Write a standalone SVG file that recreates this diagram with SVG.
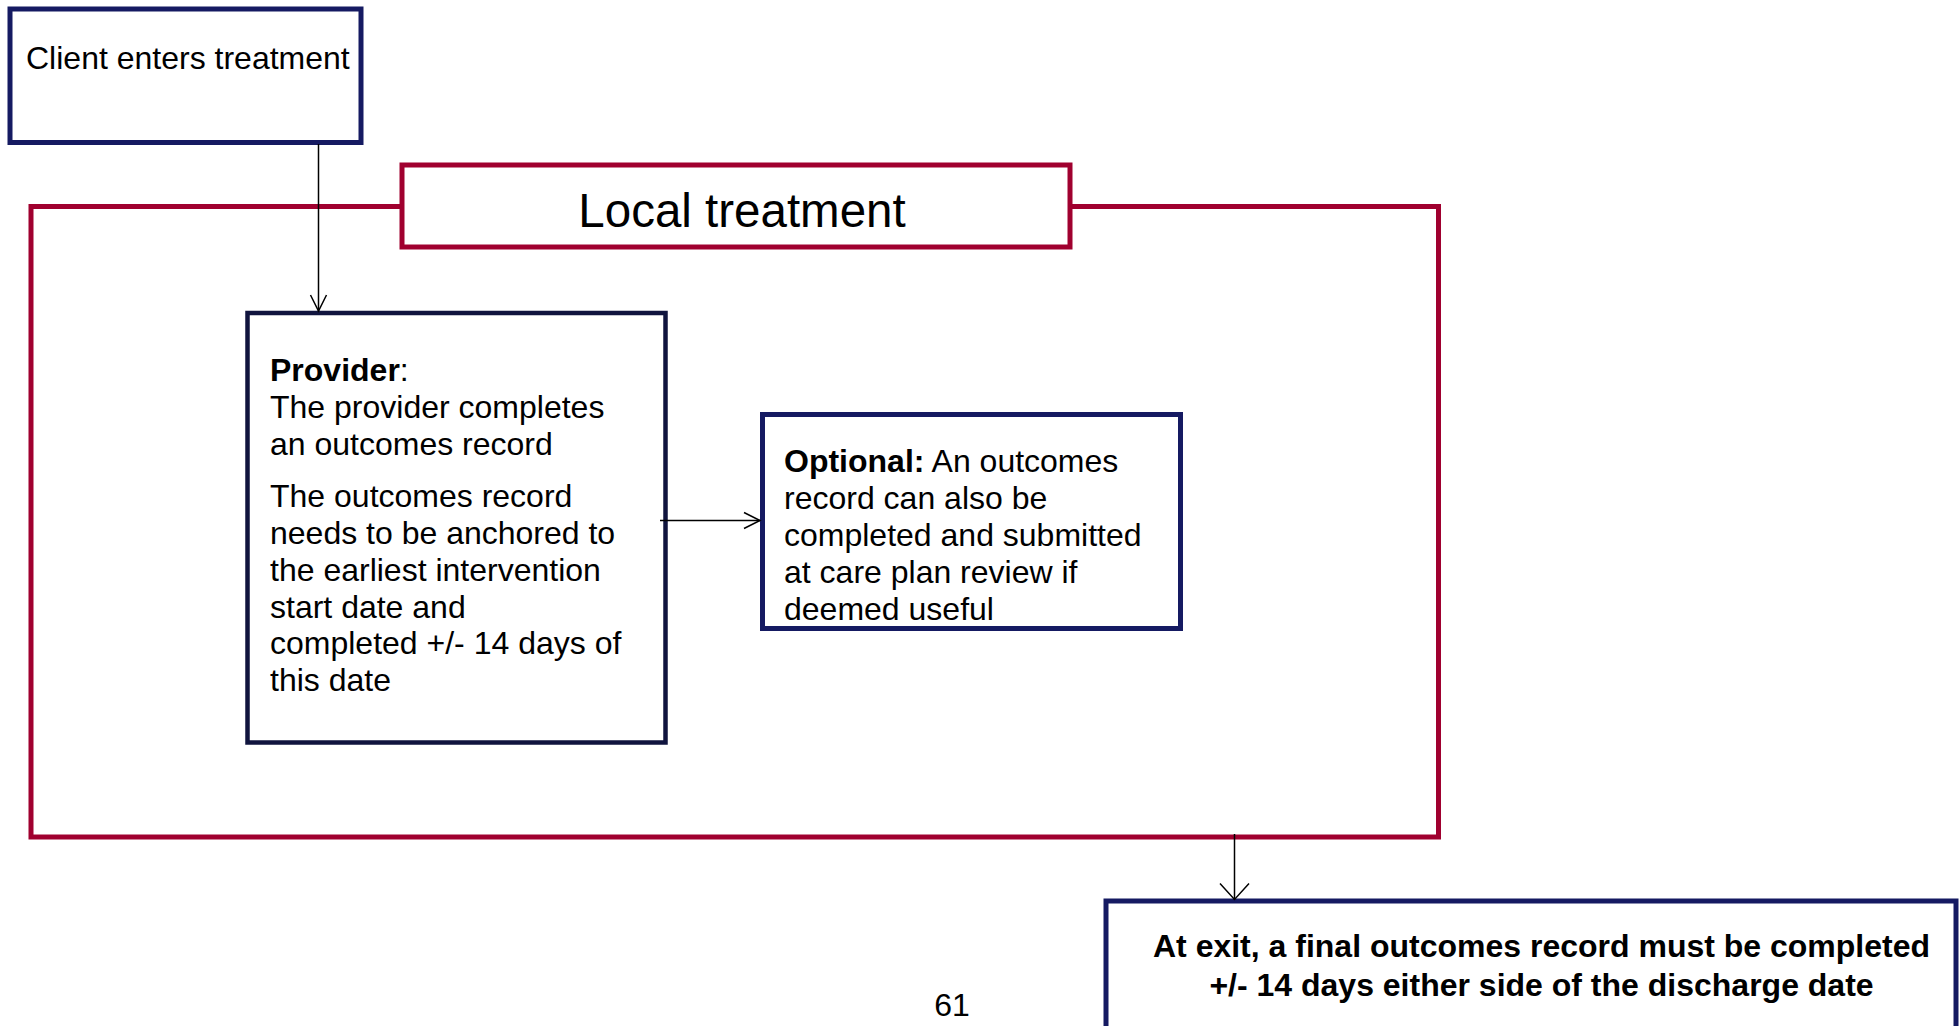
<svg xmlns="http://www.w3.org/2000/svg" width="1960" height="1026" viewBox="0 0 1960 1026">
<style>
  text { font-family: "Liberation Sans", Arial, sans-serif; fill: #000; }
  .body { font-size: 32px; }
  .b { font-weight: bold; }
  .navy { fill: #fff; stroke: #151a62; stroke-width: 5; }
  .dark { fill: #fff; stroke: #10143e; stroke-width: 4.5; }
  .crim { fill: none; stroke: #a0002f; stroke-width: 5; }
  .crimw { fill: #fff; stroke: #a0002f; stroke-width: 5; }
  .conn { fill: none; stroke: #000; stroke-width: 1.5; }
</style>
<defs>
  <marker id="arr" markerUnits="userSpaceOnUse" markerWidth="20" markerHeight="20" refX="16" refY="0" orient="auto" overflow="visible">
    <path d="M0,-8 L16,0 L0,8" fill="none" stroke="#000" stroke-width="1.5"/>
  </marker>
  <marker id="arrW" markerUnits="userSpaceOnUse" markerWidth="20" markerHeight="32" refX="16" refY="0" orient="auto" overflow="visible">
    <path d="M0,-14.5 L16,0 L0,14.5" fill="none" stroke="#000" stroke-width="1.5"/>
  </marker>
</defs>
<rect width="1960" height="1026" fill="#fff"/>

<g id="local-treatment-frame">
  <rect class="crim" x="31" y="206.5" width="1407.5" height="630.5"/>
</g>
<g id="local-treatment-label">
  <rect class="crimw" x="402" y="165" width="668" height="82"/>
  <text x="742" y="226.5" font-size="47.5" text-anchor="middle">Local treatment</text>
</g>

<g id="client">
  <rect class="navy" x="10" y="9" width="351" height="133.5" stroke-width="4.5"/>
  <text class="body" x="26" y="69">Client enters treatment</text>
</g>

<g id="provider">
  <rect class="dark" x="247.5" y="313" width="418" height="429.5"/>
  <text class="body" x="270" y="381"><tspan class="b">Provider</tspan>:</text>
  <text class="body" x="270" y="418">The provider completes</text>
  <text class="body" x="270" y="455">an outcomes record</text>
  <text class="body" x="270" y="507">The outcomes record</text>
  <text class="body" x="270" y="544">needs to be anchored to</text>
  <text class="body" x="270" y="581">the earliest intervention</text>
  <text class="body" x="270" y="617.5">start date and</text>
  <text class="body" x="270" y="654">completed +/- 14 days of</text>
  <text class="body" x="270" y="691">this date</text>
</g>

<g id="optional">
  <rect class="navy" x="762.5" y="414.5" width="418" height="214"/>
  <text class="body" x="784" y="472"><tspan class="b">Optional:</tspan> An outcomes</text>
  <text class="body" x="784" y="509">record can also be</text>
  <text class="body" x="784" y="546">completed and submitted</text>
  <text class="body" x="784" y="583">at care plan review if</text>
  <text class="body" x="784" y="620">deemed useful</text>
</g>

<g id="exit">
  <rect class="navy" x="1106" y="901" width="850" height="200"/>
  <text class="body b" x="1541.5" y="957" text-anchor="middle">At exit, a final outcomes record must be completed</text>
  <text class="body b" x="1541.5" y="995.5" text-anchor="middle">+/- 14 days either side of the discharge date</text>
</g>

<g id="page-number">
  <text class="body" x="952" y="1016" text-anchor="middle">61</text>
</g>

<g id="connectors">
  <line class="conn" x1="318.5" y1="144" x2="318.5" y2="311" marker-end="url(#arr)"/>
  <line class="conn" x1="660" y1="520.5" x2="760" y2="520.5" marker-end="url(#arr)"/>
  <line class="conn" x1="1234.5" y1="834" x2="1234.5" y2="899.5" marker-end="url(#arrW)"/>
</g>
</svg>
